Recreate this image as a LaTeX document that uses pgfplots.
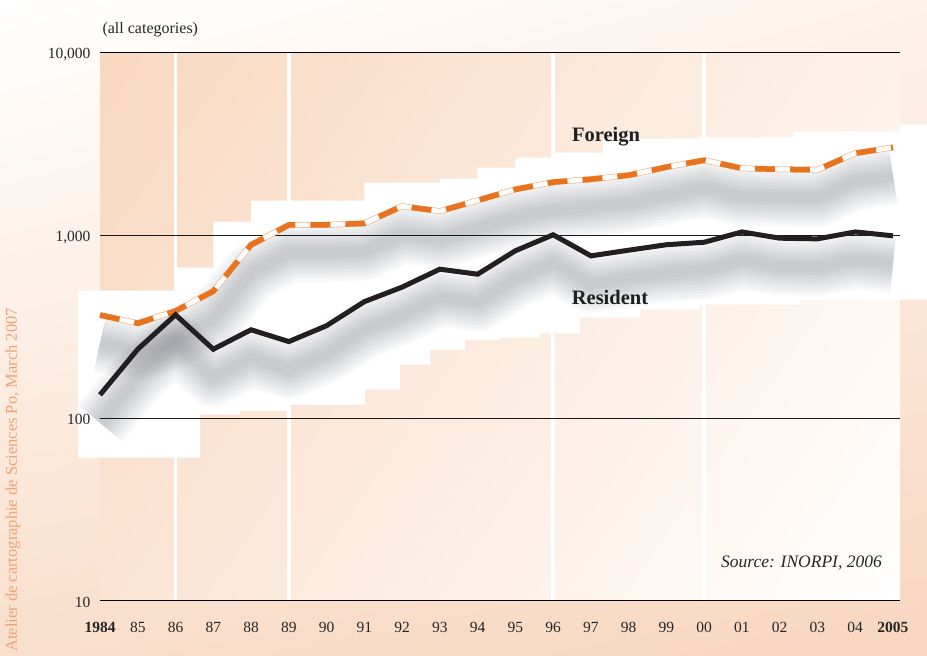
\documentclass[border=0pt]{standalone}
\usepackage{pgfplots}
\pgfplotsset{compat=1.18}
\usetikzlibrary{shadings}
\usepackage{fontspec}
\setmainfont{Liberation Serif}
\definecolor{forange}{HTML}{E8731F}
\definecolor{flight}{HTML}{F2B48A}
\definecolor{resblack}{HTML}{231F20}
\definecolor{credit}{HTML}{EFA272}
\definecolor{shadowc}{HTML}{5A6068}
\definecolor{pUL}{HTML}{F9D8BF}
\definecolor{pUR}{HTML}{FDF2EA}
\definecolor{pLL}{HTML}{FBE4D4}
\definecolor{pLR}{HTML}{FFFFFF}
\definecolor{oUR}{HTML}{FDF3EB}
\definecolor{oLL}{HTML}{F9DFCC}
\definecolor{oLR}{HTML}{F8D6BF}
\pgfplotsset{shad/.style={draw=shadowc, line width=#1, opacity=0.04, yshift=-28pt, line join=round, line cap=butt, forget plot}}
\begin{document}
\begin{tikzpicture}
\clip (0pt,0pt) rectangle (927pt,656pt);
\shade[upper left=white, upper right=oUR, lower left=oLL, lower right=oLR] (0pt,0pt) rectangle (927pt,656pt);
\begin{axis}[
  at={(100pt,55pt)}, anchor=south west,
  scale only axis, width=800pt, height=548.7pt,
  xmin=1984, xmax=2005.185, ymode=log, ymin=10, ymax=10000,
  clip=false, axis on top,
  axis line style={draw=none},
  major tick length=0pt, minor tick length=0pt,
  xtick={1984,...,2005},
  xticklabels={\textbf{1984},85,86,87,88,89,90,91,92,93,94,95,96,97,98,99,00,01,02,03,04,\textbf{2005}},
  ytick={10,100,1000,10000},
  yticklabels={10,100,{1,000},{10,000}},
  log basis y=10,
  xticklabel style={font=\fontsize{15.5}{18}\selectfont, anchor=base, yshift=-31.5pt, text=black!85},
  yticklabel style={font=\fontsize{15.5}{18}\selectfont, anchor=base east, yshift=-6.5pt, xshift=-6pt, text=black!85},
  axis background/.style={shade, upper left=pUL, upper right=pUR, lower left=pLL, lower right=pLR},
]
% white vertical separators
\addplot[white, line width=3.7pt, forget plot] coordinates {(1986,10) (1986,10000)};
\addplot[white, line width=3.7pt, forget plot] coordinates {(1989,10) (1989,10000)};
\addplot[white, line width=3.7pt, forget plot] coordinates {(1996,10) (1996,10000)};
\addplot[white, line width=3.7pt, forget plot] coordinates {(2000,10) (2000,10000)};
% white stepped halo
\addplot[fill=white, draw=none, forget plot] coordinates {
(1983.417,60.8) (1983.417,497) (1986,497) (1986,664) (1987,664) (1987,1185) (1988,1185) (1988,1544) (1991,1544) (1991,1936) (1993,1936) (1993,2037) (1994,2037) (1994,2339) (1995,2339) (1995,2653) (1996,2653) (1996,2825) (1997.32,2825) (1997.32,3370) (1999.89,3370) (1999.89,3412) (2002.35,3412) (2002.35,3680) (2005.19,3680) (2005.19,4020) (2005.9,4020) (2005.9,443.9) (2002.54,443.9) (2002.54,416.9) (1999.89,416.9) (1999.89,391.4) (1998.3,391.4) (1998.3,353.9) (1996.71,353.9) (1996.71,290.1) (1995.65,290.1) (1995.65,275.3) (1994.59,275.3) (1994.59,268.4) (1993.67,268.4) (1993.67,236.6) (1992.74,236.6) (1992.74,195.9) (1991.94,195.9) (1991.94,143) (1991.02,143) (1991.02,118.4) (1989.03,118.4) (1989.03,109.8) (1987.71,109.8) (1987.71,104.4) (1986.65,104.4) (1986.65,60.8)} -- cycle;
% data
\pgfplotstableread{
year foreign resident
1984 366 134
1985 330 238
1986 385 367
1987 494 238
1988 885 304
1989 1137 262
1990 1140 320
1991 1160 433
1992 1440 520
1993 1353 652
1994 1550 612
1995 1780 822
1996 1950 1005
1997 2023 771
1998 2127 828
1999 2356 887
2000 2570 915
2001 2321 1042
2002 2290 963
2003 2280 955
2004 2806 1042
2005 3020 992
}\datatable
% soft grey shadow
\addplot[shad=58pt] table[x=year,y=foreign] {\datatable};
\addplot[shad=58pt] table[x=year,y=resident] {\datatable};
\addplot[shad=52pt] table[x=year,y=foreign] {\datatable};
\addplot[shad=52pt] table[x=year,y=resident] {\datatable};
\addplot[shad=46pt] table[x=year,y=foreign] {\datatable};
\addplot[shad=46pt] table[x=year,y=resident] {\datatable};
\addplot[shad=40pt] table[x=year,y=foreign] {\datatable};
\addplot[shad=40pt] table[x=year,y=resident] {\datatable};
\addplot[shad=34pt] table[x=year,y=foreign] {\datatable};
\addplot[shad=34pt] table[x=year,y=resident] {\datatable};
\addplot[shad=28pt] table[x=year,y=foreign] {\datatable};
\addplot[shad=28pt] table[x=year,y=resident] {\datatable};
\addplot[shad=22pt] table[x=year,y=foreign] {\datatable};
\addplot[shad=22pt] table[x=year,y=resident] {\datatable};
\addplot[shad=16pt] table[x=year,y=foreign] {\datatable};
\addplot[shad=16pt] table[x=year,y=resident] {\datatable};
\addplot[shad=10pt] table[x=year,y=foreign] {\datatable};
\addplot[shad=10pt] table[x=year,y=resident] {\datatable};
% horizontal reference lines
\addplot[black, line width=1pt, forget plot] coordinates {(1984,10000) (2005.185,10000)};
\addplot[black!90, line width=0.7pt, forget plot] coordinates {(1984,1000) (2005.185,1000)};
\addplot[black!90, line width=0.7pt, forget plot] coordinates {(1984,100) (2005.185,100)};
\addplot[black, line width=1pt, forget plot] coordinates {(1984,10) (2005.185,10)};
% foreign: outlined track + dashes
\addplot[flight, line width=6pt, line join=round, forget plot] table[x=year,y=foreign] {\datatable};
\addplot[white, line width=4.6pt, line join=round, forget plot] table[x=year,y=foreign] {\datatable};
\addplot[forange, line width=5.5pt, dash pattern=on 20pt off 15pt, line join=round] table[x=year,y=foreign] {\datatable};
% resident
\addplot[resblack, line width=5pt, line join=miter] table[x=year,y=resident] {\datatable};
\end{axis}
\node[anchor=west, font=\fontsize{16}{19}\selectfont, text=black!85] at (99pt,626pt) {(all categories)};
\node[font=\fontsize{20.5}{24}\selectfont\bfseries, text=black!88] at (606pt,519pt) {Foreign};
\node[font=\fontsize{20.5}{24}\selectfont\bfseries, text=black!88] at (610pt,359pt) {Resident};
\node[anchor=east, inner sep=0pt, font=\fontsize{17.5}{21}\selectfont\itshape, text=black!85] at (882pt,93pt) {Source: INORPI, 2006};
\node[rotate=90, anchor=west, inner sep=0pt, font=\fontsize{16.5}{19}\selectfont, text=credit] at (13pt,4pt) {Atelier de cartographie de Sciences Po, March 2007};
\end{tikzpicture}
\end{document}
